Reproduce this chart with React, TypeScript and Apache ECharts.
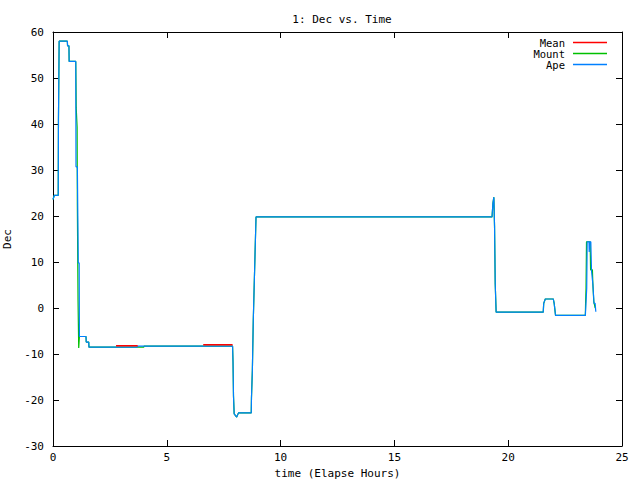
import React, { useEffect, useRef } from "react";
import * as echarts from "echarts";

const titleText = "1: Dec vs. Time";
const xName = "time (Elapse Hours)";
const yName = "Dec";

const apeTime = [0, 0.06, 0.23, 0.24, 0.26, 0.27, 0.63, 0.64, 0.7, 0.71, 1.0, 1.01, 1.07, 1.1, 1.11, 1.15, 1.16, 1.45, 1.46, 1.57, 1.58, 3.7, 3.71, 7.89, 7.91, 7.93, 7.96, 8.07, 8.15, 8.71, 8.72, 8.76, 8.8, 8.92, 19.29, 19.3, 19.33, 19.37, 19.4, 19.43, 19.47, 21.54, 21.56, 21.63, 21.98, 22.02, 22.08, 23.39, 23.43, 23.45, 23.47, 23.55, 23.56, 23.58, 23.63, 23.66, 23.72, 23.77, 23.82, 23.85, 23.88];
const apeDec = [23.6, 24.5, 24.5, 41, 41, 58, 58, 57, 57, 53.6, 53.6, 30.7, 30.7, 30.7, 9.8, 9.8, -6.2, -6.2, -7.4, -7.4, -8.5, -8.5, -8.3, -8.3, -11.9, -19.1, -23.0, -23.7, -22.8, -22.8, -19.6, -13.5, -2.6, 19.8, 19.8, 20.6, 22.8, 24.1, 17.8, 5.2, -0.9, -0.9, 1.0, 1.96, 1.96, 1.0, -1.6, -1.6, 2.3, 4.3, 14.4, 14.4, 12.2, 14.4, 14.4, 8.1, 5.2, 1.0, 1.0, -0.8, -0.8];

const mountTime = [0, 0.06, 0.23, 0.24, 0.26, 0.27, 0.63, 0.64, 0.7, 0.71, 1.0, 1.01, 1.02, 1.06, 1.07, 1.1, 1.13, 1.16, 1.45, 1.46, 1.57, 1.58, 3.99, 4.0, 7.89, 7.91, 7.93, 7.96, 8.07, 8.15, 8.71, 8.72, 8.76, 8.8, 8.92, 19.29, 19.3, 19.33, 19.37, 19.4, 19.43, 19.47, 21.54, 21.56, 21.63, 21.98, 22.02, 22.08, 23.39, 23.4, 23.42, 23.44, 23.6, 23.62, 23.7, 23.72, 23.76, 23.82, 23.86];
const mountDec = [23.6, 24.5, 24.5, 41, 41, 58, 58, 57, 57, 53.6, 53.6, 48.9, 43.5, 39.3, 22.4, 1.7, -8.7, -6.2, -6.2, -7.4, -7.4, -8.5, -8.5, -8.3, -8.3, -11.9, -19.1, -23.0, -23.7, -22.8, -22.8, -19.6, -13.5, -2.6, 19.8, 19.8, 20.6, 22.8, 24.1, 17.8, 5.2, -0.9, -0.9, 1.0, 1.96, 1.96, 1.0, -1.6, -1.6, 1.0, 4.3, 14.4, 14.4, 8.3, 8.3, 5.2, 1.4, 0, 0];

const meanTime = [2.77, 3.72, 3.72, 6.6, 7.89];
const meanDec: (number | null)[] = [-8.2, -8.2, null, -8.0, -8.0];

const xTicks = { min: 0, max: 25, interval: 5 };
const yTicks = { min: -30, max: 60, interval: 10 };

const FONT = "DejaVu Sans Mono";

function pairs(t: number[], v: (number | null)[]) {
  return t.map((x, i) => [x, v[i] === null ? "-" : v[i]]);
}

export default function App() {
  const ref = useRef<HTMLDivElement>(null);
  useEffect(() => {
    if (!ref.current) return;
    const chart = echarts.init(ref.current, null, { renderer: "svg" });
    const axisCommon = {
      axisLine: { show: true, onZero: false, lineStyle: { color: "#000", width: 1 } },
      axisTick: { show: true, inside: true, length: 6, lineStyle: { color: "#000" } },
      splitLine: { show: false },
    };
    chart.setOption({
      animation: false,
      backgroundColor: "#fff",
      title: {
        text: titleText,
        left: 337,
        top: 9,
        textAlign: "center",
        textStyle: { fontFamily: FONT, fontSize: 11, fontWeight: "normal", color: "#000" },
      },
      legend: {
        orient: "vertical",
        right: 33,
        top: 37,
        padding: 0,
        align: "right",
        icon: "rect",
        itemWidth: 34,
        itemHeight: 1.5,
        itemGap: 0,
        textStyle: { fontFamily: FONT, fontSize: 10.5, color: "#000", lineHeight: 11, padding: [0, 3, 0, 0] },
        data: ["Mean", "Mount", "Ape"],
      },
      grid: { left: 53, right: 18, top: 32, bottom: 34, containLabel: false, outerBoundsMode: "none" },
      xAxis: [
        {
          type: "value",
          ...xTicks,
          position: "bottom",
          name: xName,
          nameLocation: "middle",
          nameGap: 21,
          nameTextStyle: { fontFamily: FONT, fontSize: 11, color: "#000" },
          axisLabel: { fontFamily: FONT, fontSize: 11, color: "#000", margin: 6 },
          ...axisCommon,
        },
        {
          type: "value",
          ...xTicks,
          position: "top",
          axisLabel: { show: false },
          ...axisCommon,
        },
      ],
      yAxis: [
        {
          type: "value",
          ...yTicks,
          position: "left",
          name: yName,
          nameLocation: "middle",
          nameGap: 34,
          nameRotate: 90,
          nameTextStyle: { fontFamily: FONT, fontSize: 11, color: "#000" },
          axisLabel: { fontFamily: FONT, fontSize: 11, color: "#000", margin: 9 },
          ...axisCommon,
        },
        {
          type: "value",
          ...yTicks,
          position: "right",
          axisLabel: { show: false },
          ...axisCommon,
        },
      ],
      series: [
        {
          name: "Mean",
          type: "line",
          data: pairs(meanTime, meanDec),
          showSymbol: false,
          connectNulls: false,
          lineStyle: { color: "#ff0000", width: 1.5 },
          itemStyle: { color: "#ff0000" },
          z: 4,
        },
        {
          name: "Mount",
          type: "line",
          data: pairs(mountTime, mountDec),
          showSymbol: false,
          lineStyle: { color: "#00c000", width: 1.2 },
          itemStyle: { color: "#00c000" },
          z: 2,
        },
        {
          name: "Ape",
          type: "line",
          data: pairs(apeTime, apeDec),
          showSymbol: false,
          lineStyle: { color: "#0080ff", width: 1.2 },
          itemStyle: { color: "#0080ff" },
          z: 3,
        },
      ],
    });
    return () => chart.dispose();
  }, []);
  return <div ref={ref} style={{ width: 640, height: 480, position: "absolute", left: 0, top: 0 }} />;
}
